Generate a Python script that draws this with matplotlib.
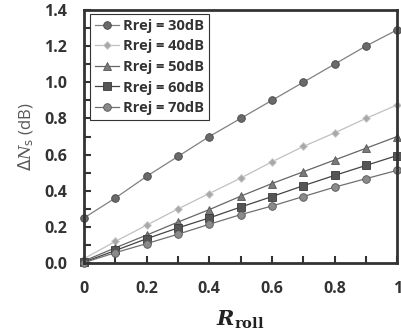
import matplotlib
matplotlib.use("Agg")
import matplotlib.pyplot as plt
from matplotlib.ticker import MultipleLocator

# data
r_roll = [0.0, 0.1, 0.2, 0.3, 0.4, 0.5, 0.6, 0.7, 0.8, 0.9, 1.0]
dn_30 = [0.25, 0.36, 0.48, 0.59, 0.70, 0.80, 0.90, 1.00, 1.10, 1.20, 1.29]
dn_40 = [0.025, 0.12, 0.21, 0.30, 0.385, 0.47, 0.56, 0.645, 0.72, 0.80, 0.875]
dn_50 = [0.012, 0.085, 0.155, 0.227, 0.296, 0.37, 0.44, 0.505, 0.57, 0.635, 0.70]
dn_60 = [0.006, 0.07, 0.135, 0.195, 0.25, 0.31, 0.368, 0.428, 0.485, 0.54, 0.595]
dn_70 = [0.003, 0.058, 0.108, 0.16, 0.215, 0.268, 0.316, 0.368, 0.42, 0.467, 0.513]
labels = ["Rrej = 30dB", "Rrej = 40dB", "Rrej = 50dB", "Rrej = 60dB", "Rrej = 70dB"]

plt.rcParams['font.family'] = ['Open Sans', 'DejaVu Sans']
plt.rcParams['mathtext.fontset'] = 'dejavuserif'

fig = plt.figure(figsize=(4.02, 3.31), dpi=100)
ax = fig.add_axes([0.209, 0.205, 0.779, 0.765])

styles = [
    dict(marker='o', mfc='#6a6a6a', mec='#444444', color='#808080', ms=5.5),
    dict(marker='D', mfc='#a8a8a8', mec='#d0d0d0', color='#c0c0c0', ms=4.5),
    dict(marker='^', mfc='#7a7a7a', mec='#555555', color='#666666', ms=6),
    dict(marker='s', mfc='#555555', mec='#3a3a3a', color='#444444', ms=5.5),
    dict(marker='o', mfc='#8a8a8a', mec='#555555', color='#707070', ms=5.5),
]
for ys, lab, st in zip([dn_30, dn_40, dn_50, dn_60, dn_70], labels, styles):
    ax.plot(r_roll, ys, lw=0.9, mew=0.6, label=lab, clip_on=False, **st)

ax.set_xlim(0, 1)
ax.set_ylim(0, 1.4)
ax.xaxis.set_major_locator(MultipleLocator(0.2))
ax.xaxis.set_minor_locator(MultipleLocator(0.1))
ax.yaxis.set_major_locator(MultipleLocator(0.2))
ax.yaxis.set_minor_locator(MultipleLocator(0.1))


def xfmt(v, p):
    if abs(v) < 1e-9:
        return '0'
    if abs(v - 1) < 1e-9:
        return '1'
    return f'{v:.1f}'


ax.xaxis.set_major_formatter(xfmt)
ax.yaxis.set_major_formatter(lambda v, p: f'{v:.1f}')

for s in ax.spines.values():
    s.set_linewidth(2)
    s.set_color('#333333')
ax.tick_params(which='both', direction='in', color='#333333', width=1.5,
               labelsize=11.5, length=5)
ax.tick_params(axis='x', pad=13)
ax.tick_params(axis='y', pad=12)
for t in ax.get_xticklabels() + ax.get_yticklabels():
    t.set_fontweight('bold')
    t.set_color('#333333')

ax.set_ylabel(r'$\mathsf{\Delta}N_\mathsf{s}$ (dB)', fontsize=12, color='#595959', labelpad=6)
ax.set_xlabel(r'$\mathbfit{R}_{\mathbf{roll}}$', fontsize=15, color='#222222', labelpad=8)

leg = ax.legend(loc='upper left', bbox_to_anchor=(0.02, 0.985), fancybox=False,
                edgecolor='#333333', framealpha=1, handlelength=1.6,
                handletextpad=0.3, borderpad=0.35, labelspacing=0.45,
                borderaxespad=0.0, prop={'weight': 'bold', 'size': 10.5})
leg.get_frame().set_linewidth(0.8)
for t in leg.get_texts():
    t.set_color('#333333')

fig.savefig('out.png', dpi=100)
